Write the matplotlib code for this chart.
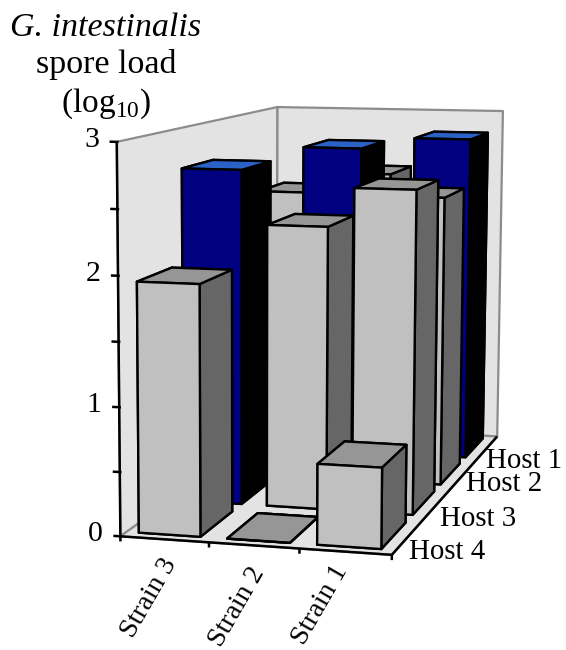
import numpy as np
import matplotlib
matplotlib.use("Agg")
import matplotlib.pyplot as plt
from mpl_toolkits.mplot3d.art3d import Poly3DCollection, Line3DCollection

plt.rcParams['font.family'] = ['Liberation Serif', 'DejaVu Serif']
plt.rcParams['mathtext.fontset'] = 'custom'
plt.rcParams['mathtext.rm'] = 'Liberation Serif'

strains = ["Strain 3", "Strain 2", "Strain 1"]
hosts = ["Host 4", "Host 3", "Host 2", "Host 1"]
strain3 = [1.94, 2.70, 1.50, 2.31]
strain2 = [0.00, 2.27, 2.80, 2.49]
strain1 = [0.62, 2.58, 2.41, 2.81]
values = [strain3, strain2, strain1]
matched_host = [1, 2, 3]   # index in hosts of each strain's own host (blue bar)
z_labels = [0, 1, 2, 3]
z_ticks = [0, 0.5, 1, 1.5, 2, 2.5, 3]

W, H = 566, 650
GRAY = ('#c0c0c0', '#969696', '#666666')
BLUE = ('#000080', '#2a62c8', '#000000')

# camera calibration: corners of the plot box -> pixel positions
world = [(0, 0, 0), (3, 0, 0), (3, 4, 0), (0, 4, 0), (0, 0, 3), (0, 4, 3), (3, 4, 3)]
pixel = [(120, 533), (392, 558), (497, 433), (277, 428), (117, 142), (277, 106), (503, 112)]
rows = []
for (X, Y, Z), (u, v) in zip(world, pixel):
    p = [X, Y, Z, 1]
    rows.append(p + [0, 0, 0, 0] + [-u * c for c in p])
    rows.append([0, 0, 0, 0] + p + [-v * c for c in p])
P = np.linalg.svd(np.array(rows, float))[2][-1].reshape(3, 4)
if P[2, 3] < 0:
    P = -P


def to_px(x, y, z):
    q = P @ np.array([x, y, z, 1.0])
    return q[0] / q[2], q[1] / q[2]


def label(x, y, s, **kw):
    fig.text(x / W, 1 - y / H, s, **kw)


fig = plt.figure(figsize=(W / 100, H / 100), dpi=100, facecolor='white')
ax = fig.add_axes([0, 0, 1, 1], projection='3d', computed_zorder=False)
ax.set_axis_off()


def get_proj():
    T = ax.transData.get_affine().get_matrix()
    flip = np.array([[1, 0, 0], [0, -1, H], [0, 0, 1]], float)
    A = np.linalg.inv(T) @ flip @ P
    depth = np.array([-0.2, 1.0, -0.15, 0.0]) * A[2, 3]
    return np.array([A[0], A[1], depth, A[2]])


ax.get_proj = get_proj
ax.patch.set_visible(False)
ax.set_xlim(0, 3)
ax.set_ylim(0, 4)
ax.set_zlim(0, 3)

# walls and floor
zt = z_ticks[-1]
nx, ny = len(strains), len(hosts)
walls = [
    [(0, 0, 0), (nx, 0, 0), (nx, ny, 0), (0, ny, 0)],
    [(0, 0, 0), (0, ny, 0), (0, ny, zt), (0, 0, zt)],
    [(0, ny, 0), (nx, ny, 0), (nx, ny, zt), (0, ny, zt)],
]
wall_art = Poly3DCollection(walls, facecolor='#e3e3e3', edgecolor='#8c8c8c', linewidth=1.6)
ax.add_collection3d(wall_art)
wall_art.set_zorder(1)

# axis lines and ticks
segs = [[(0, 0, 0), (0, 0, zt)], [(0, 0, 0), (nx, 0, 0)], [(nx, 0, 0), (nx, ny, 0)]]
segs += [[(0.02, 0, z), (-0.08, 0, z)] for z in z_ticks]
segs += [[(i, 0, 0), (i, 0, -0.04)] for i in range(nx + 1)]
axis_art = Line3DCollection(segs, colors='black', linewidths=1.8)
ax.add_collection3d(axis_art)
axis_art.set_zorder(2)

for z in z_labels:
    x0, y0 = to_px(0, 0, z)
    label(x0 - 25, y0 - 2, str(z), fontsize=21.5, ha='center', va='center')

# bars, back to front, left to right
zo = 10
for r in range(ny - 1, -1, -1):
    for s in range(nx):
        front, top, side = BLUE if matched_host[s] == r else GRAY
        ax.bar3d(s + 0.14, r + 0.13, 0, 0.7, 0.76, values[s][r], shade=False,
                 color=[top, top, front, front, side, side], edgecolor='black',
                 linewidth=1.7, zorder=zo)
        zo += 1

# labels
strain_nudge = [(-4, 15), (-6, 17), (-14, 9)]
for i, name in enumerate(strains):
    x0, y0 = to_px(i + 0.5, 0, 0)
    label(x0 + strain_nudge[i][0], y0 + strain_nudge[i][1], name, fontsize=20, rotation=60,
          ha='right', va='top', rotation_mode='anchor')
host_nudge = [(1, 15), (3, 15), (3, 9), (0, 12)]
for j, name in enumerate(hosts):
    x0, y0 = to_px(nx, j + 0.5, 0)
    label(x0 + host_nudge[j][0], y0 + host_nudge[j][1], name, fontsize=20.8, ha='left', va='center')

label(106, 28, "G. intestinalis", style='italic', fontsize=24.5, ha='center', va='center')
label(106, 65, "spore load", fontsize=24.5, ha='center', va='center')
label(106, 104, r"(log$_{\mathrm{10}}$)", fontsize=24, ha='center', va='center')

fig.savefig("out.png", dpi=100, facecolor='white')
